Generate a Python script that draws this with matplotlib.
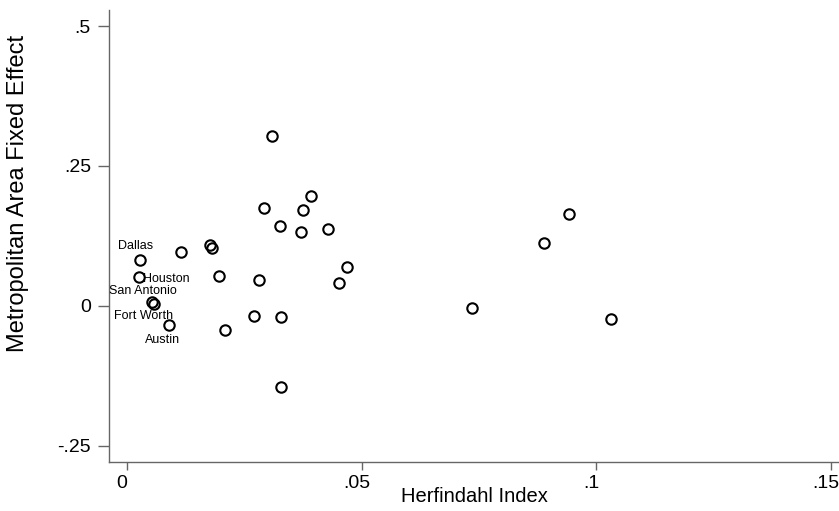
import numpy as np
import matplotlib
matplotlib.use("Agg")
import matplotlib.pyplot as plt
from matplotlib.transforms import ScaledTranslation

# Herfindahl index vs. metro area fixed effect
herf = [0.0309, 0.0392, 0.0292, 0.0375, 0.0326, 0.0370, 0.0428, 0.0177, 0.0182,
        0.0115, 0.0028, 0.0026, 0.0053, 0.0058, 0.0196, 0.0281, 0.0470, 0.0451,
        0.0270, 0.0328, 0.0208, 0.0090, 0.0328, 0.0735, 0.0890, 0.0943, 0.1032]
effect = [0.303, 0.196, 0.174, 0.171, 0.143, 0.132, 0.137, 0.109, 0.104,
          0.096, 0.082, 0.052, 0.007, 0.003, 0.054, 0.046, 0.069, 0.041,
          -0.018, -0.020, -0.043, -0.034, -0.145, -0.004, 0.113, 0.165, -0.024]
names = ["", "", "", "", "", "", "", "", "",
         "", "Dallas", "Houston", "San Antonio", "Fort Worth", "", "", "", "",
         "", "", "", "Austin", "", "", "", "", ""]

# label offsets in pixels (dx, dy) and alignment
label_pos = {"Dallas": (-5, 14, "center"),
             "Houston": (4, -2, "left"),
             "San Antonio": (-9, 11, "center"),
             "Fort Worth": (-11, -12, "center"),
             "Austin": (-7, -15, "center")}

xticks = [0, 0.05, 0.1, 0.15]
xticklabels = ["0", ".05", ".1", ".15"]
yticks = [-0.25, 0, 0.25, 0.5]
yticklabels = ["-.25", "0", ".25", ".5"]

plt.rcParams['font.family'] = ['Liberation Sans', 'DejaVu Sans']

fig = plt.figure(figsize=(8.39, 5.11), dpi=100)
ax = fig.add_axes([109 / 839, 1 - 462 / 511, 1 - 109 / 839, (462 - 10) / 511])

ax.plot(herf, effect, "o", markersize=7.5, markerfacecolor="none",
        markeredgecolor="k", markeredgewidth=1.5)

for x, y, n in zip(herf, effect, names):
    if n:
        dx, dy, ha = label_pos[n]
        ax.annotate(n, (x, y), xytext=(dx, dy), textcoords="offset pixels",
                    ha=ha, va="center", fontsize=9)

ax.set_xlim(-0.00384, 0.1518)
ax.set_ylim(-0.279, 0.5286)
ax.set_xticks(xticks)
ax.set_xticklabels(xticklabels)
ax.set_yticks(yticks)
ax.set_yticklabels(yticklabels)
ax.tick_params(axis="both", direction="out", width=1, color="#666666", labelsize=14)
ax.tick_params(axis="x", length=6, pad=3)
ax.tick_params(axis="y", length=8, pad=5)

# x tick labels sit a little left of their ticks
shift = ScaledTranslation(-0.05, 0, fig.dpi_scale_trans)
for lab in ax.get_xticklabels():
    lab.set_transform(lab.get_transform() + shift)

for s in ["top", "right"]:
    ax.spines[s].set_visible(False)
for s in ["left", "bottom"]:
    ax.spines[s].set_color("#666666")
    ax.spines[s].set_linewidth(1)

ax.set_xlabel("Herfindahl Index", fontsize=14.5, va="top")
ax.xaxis.set_label_coords(0.5, -0.0553)
ax.set_ylabel("Metropolitan Area Fixed Effect", fontsize=17)
ax.yaxis.set_label_coords(-0.11, 0.595)

fig.savefig("out.png", dpi=100)
